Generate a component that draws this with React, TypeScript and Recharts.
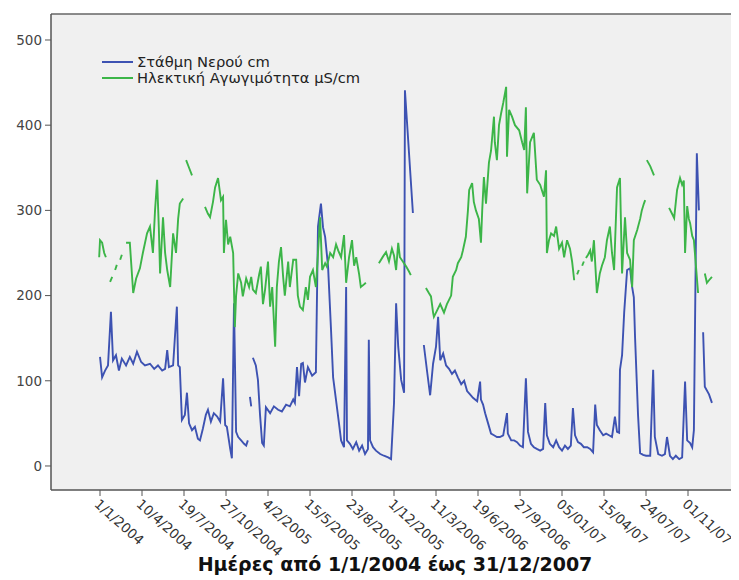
import React from 'react';
import { CartesianGrid, Legend, Line, LineChart, ReferenceLine, XAxis, YAxis } from 'recharts';

// x = days since 1/1/2004, ticks every 100 days
const tickDays = [0, 100, 200, 300, 400, 500, 600, 700, 800, 900, 1000, 1100, 1200, 1300, 1400];
const tickLabels = [
  '1/1/2004', '10/4/2004', '19/7/2004', '27/10/2004', '4/2/2005', '15/5/2005', '23/8/2005',
  '1/12/2005', '11/3/2006', '19/6/2006', '27/9/2006', '05/01/07', '15/04/07', '24/07/07', '01/11/07',
];
const valueTicks = [0, 100, 200, 300, 400, 500];

const levelName = 'Στάθμη Νερού cm';
const condName = 'Ηλεκτική Αγωγιμότητα μS/cm';
const xTitle = 'Ημέρες από 1/1/2004 έως 31/12/2007';

type Pt = [number, number | null];

// water level (cm); null = gap in the record
const levelPoints: Pt[] = [
  [0, 128], [5, 104], [12, 112], [19, 118], [26, 181], [31, 124], [38, 130], [45, 112], [52, 126],
  [62, 118], [71, 128], [79, 120], [88, 134], [98, 122], [107, 118], [119, 120], [129, 114], [138, 118],
  [148, 112], [155, 114], [160, 136], [164, 116], [174, 118], [183, 187], [186, 118], [190, 116],
  [195, 54], [202, 60], [207, 86], [212, 50], [219, 42], [226, 46], [233, 32], [238, 30], [245, 44],
  [252, 60], [257, 66], [264, 52], [271, 62], [279, 58], [286, 52], [293, 103], [298, 48], [302, 46],
  [310, 20], [314, 9], [319, 191], [324, 40], [329, 34], [336, 30], [343, 26], [348, 24], [352, 30],
  [354, null],
  [357, 81], [360, 70],
  [362, null],
  [364, 127], [371, 118], [376, 101], [381, 60], [386, 27], [390, 24], [395, 69], [405, 62], [414, 70],
  [424, 66], [433, 64], [443, 72], [452, 70], [460, 78], [464, 74], [469, 116], [474, 82], [479, 120],
  [483, 121], [488, 98], [495, 116], [505, 106], [514, 110], [519, 281], [526, 308], [531, 280],
  [536, 269], [543, 234], [550, 160], [555, 104], [562, 77], [569, 50], [574, 30], [581, 22], [586, 210],
  [588, 30], [595, 26], [602, 20], [610, 28], [617, 18], [624, 24], [631, 14], [638, 20], [640, 148],
  [643, 30], [650, 22], [657, 18], [667, 14], [676, 12], [686, 10], [693, 8], [700, 74], [705, 191],
  [710, 140], [717, 101], [724, 86], [726, 441], [745, 297],
  [758, null],
  [771, 142], [779, 110], [786, 83], [793, 120], [800, 140], [805, 175], [810, 124], [817, 132],
  [824, 118], [831, 114], [838, 108], [845, 112], [852, 104], [860, 96], [867, 100], [874, 88], [881, 84],
  [888, 80], [898, 76], [905, 99], [907, 78], [912, 72], [917, 62], [924, 50], [931, 38], [938, 36],
  [945, 34], [952, 34], [960, 36], [969, 62], [971, 38], [979, 30], [986, 30], [993, 28], [1000, 24],
  [1007, 22], [1014, 103], [1019, 40], [1026, 26], [1033, 22], [1040, 20], [1048, 18], [1055, 20],
  [1060, 74], [1064, 36], [1071, 26], [1079, 22], [1086, 30], [1093, 22], [1100, 18], [1107, 24],
  [1114, 20], [1121, 24], [1126, 68], [1131, 36], [1138, 28], [1145, 26], [1152, 22], [1160, 22],
  [1167, 20], [1174, 16], [1179, 72], [1183, 48], [1190, 42], [1198, 36], [1205, 38], [1212, 36],
  [1219, 34], [1226, 58], [1231, 40], [1236, 39], [1238, 113], [1243, 130], [1248, 180], [1255, 230],
  [1262, 232], [1267, 210], [1271, 198], [1274, 150], [1281, 60], [1286, 15], [1293, 13], [1300, 12],
  [1310, 12], [1317, 113], [1321, 34], [1329, 14], [1338, 12], [1345, 14], [1350, 34], [1357, 12],
  [1364, 8], [1371, 12], [1379, 8], [1386, 10], [1393, 99], [1398, 30], [1405, 27], [1410, 22],
  [1414, 42], [1421, 367], [1426, 300],
  [1431, null],
  [1436, 157], [1440, 93], [1450, 84], [1457, 74],
];

// electrical conductivity (μS/cm)
const condPoints: Pt[] = [
  [-2, 245], [0, 265], [5, 262], [10, 250], [14, 245],
  [19, null],
  [24, 216], [29, 222],
  [32, null],
  [36, 230], [40, 236],
  [44, null],
  [48, 242], [52, 248],
  [57, null],
  [62, 262], [71, 262], [79, 203], [86, 220], [95, 232], [102, 250], [112, 273], [119, 281], [126, 250],
  [131, 300], [136, 336], [140, 280], [143, 226], [150, 292], [155, 250], [160, 230], [167, 210],
  [174, 273], [181, 250], [186, 290], [190, 308], [198, 314],
  [201, null],
  [205, 359], [212, 350], [219, 341],
  [235, null],
  [250, 304], [257, 296], [262, 292], [269, 310], [274, 327], [281, 338], [288, 312], [293, 316],
  [295, 250], [300, 289], [305, 260], [310, 269], [317, 250], [321, 163], [324, 200], [329, 226],
  [336, 215], [340, 199], [348, 220], [355, 210], [360, 222], [364, 207], [371, 203], [379, 225],
  [383, 234], [388, 190], [393, 207], [400, 240], [405, 187], [410, 210], [417, 140], [421, 210],
  [426, 240], [431, 257], [436, 222], [440, 200], [448, 240], [452, 210], [460, 242], [467, 242],
  [471, 200], [476, 187], [483, 183], [490, 210], [495, 195], [500, 222], [507, 230], [514, 210],
  [519, 250], [524, 292], [529, 230], [536, 238], [540, 234], [548, 250], [555, 245], [562, 260],
  [567, 253], [574, 245], [581, 271], [586, 215], [593, 245], [600, 265], [605, 235], [610, 245],
  [617, 225], [621, 210], [626, 212], [633, 215],
  [648, null],
  [664, 238], [674, 246], [681, 251], [688, 240], [695, 255], [700, 247], [705, 230], [710, 262],
  [714, 245], [721, 240], [729, 234], [736, 228], [740, 224],
  [758, null],
  [776, 209], [783, 203], [788, 199], [793, 180], [795, 175], [802, 182], [810, 190], [819, 180],
  [826, 190], [831, 195], [836, 200], [840, 222], [848, 230], [852, 238], [860, 245], [864, 253],
  [871, 269], [876, 300], [879, 324], [886, 332], [890, 310], [895, 300], [902, 290], [907, 262],
  [910, 300], [914, 339], [919, 308], [926, 356], [931, 370], [938, 410], [940, 380], [945, 359],
  [950, 400], [955, 414], [960, 426], [967, 445], [969, 363], [974, 418], [981, 410], [988, 400],
  [998, 394], [1005, 380], [1010, 371], [1014, 421], [1017, 320], [1024, 380], [1033, 391],
  [1040, 336], [1048, 330], [1057, 316], [1062, 347], [1064, 250], [1069, 265], [1074, 273],
  [1081, 270], [1086, 281], [1093, 255], [1100, 262], [1105, 245], [1112, 265], [1119, 255],
  [1124, 240], [1129, 218],
  [1132, null],
  [1136, 225], [1140, 230],
  [1144, null],
  [1148, 235], [1152, 240],
  [1154, null],
  [1157, 244], [1162, 248], [1167, 253], [1171, 240], [1176, 265], [1183, 203], [1190, 226],
  [1195, 235], [1202, 245], [1207, 265], [1214, 281], [1219, 250], [1224, 230], [1231, 327],
  [1238, 338], [1243, 226], [1250, 292], [1255, 250], [1262, 242], [1267, 210], [1271, 265],
  [1279, 277], [1286, 290], [1290, 300], [1295, 308], [1298, 312],
  [1300, null],
  [1302, 359], [1310, 352], [1319, 341],
  [1337, null],
  [1355, 303], [1362, 296], [1367, 291], [1374, 324], [1381, 338], [1386, 330], [1390, 335],
  [1393, 250], [1398, 305], [1402, 290], [1405, 285], [1410, 270], [1414, 265], [1419, 234], [1424, 203],
  [1432, null],
  [1440, 226], [1445, 215], [1450, 218], [1457, 222],
];

const toRows = (pts: Pt[]) => pts.map(([day, value]) => ({ day, value }));
const levelData = toRows(levelPoints);
const condData = toRows(condPoints);

const BLUE = '#3d52b2';
const GREEN = '#3cb548';
const FONT = '"DejaVu Sans", Verdana, sans-serif';

const DateTick = (props: any) => {
  const { x, y, payload } = props;
  const i = tickDays.indexOf(payload.value);
  return (
    <g transform={`translate(${x},${y})`}>
      <text x={0} y={0} dy="0.72em" transform="rotate(42)" textAnchor="start" fontSize={13.5} fontFamily={FONT} fill="#333">
        {tickLabels[i]}
      </text>
    </g>
  );
};

const LegendBox = () => (
  <div style={{ fontFamily: FONT, fontSize: 14.7, color: '#222', lineHeight: '16px' }}>
    {[
      { name: levelName, color: BLUE },
      { name: condName, color: GREEN },
    ].map((s) => (
      <div key={s.name} style={{ display: 'flex', alignItems: 'center', whiteSpace: 'nowrap' }}>
        <span style={{ display: 'inline-block', width: 31, height: 2, background: s.color, marginRight: 4 }} />
        <span>{s.name}</span>
      </div>
    ))}
  </div>
);

export default function App() {
  return (
    <div style={{ width: 731, height: 572 }}>
      <LineChart width={731} height={572} margin={{ top: 6, right: 0, bottom: 0, left: 0 }}>
        <CartesianGrid fill="#f0f0f0" horizontal={false} vertical={false} />
        <XAxis
          dataKey="day"
          type="number"
          domain={[-116.7, 1521.4]}
          allowDataOverflow
          ticks={tickDays}
          interval={0}
          height={90}
          tick={<DateTick />}
          tickSize={6}
          tickMargin={2}
          axisLine={{ stroke: '#555', strokeWidth: 1.5 }}
          tickLine={{ stroke: '#555' }}
          label={{
            value: xTitle,
            position: 'insideBottom',
            offset: 9,
            style: { fontFamily: FONT, fontSize: 19, fontWeight: 'bold', fill: '#111' },
          }}
        />
        <YAxis
          type="number"
          domain={[-28.2, 530.5]}
          allowDataOverflow
          ticks={valueTicks}
          width={43}
          tickSize={6}
          tickMargin={3}
          tick={{ fontSize: 13.5, fontFamily: FONT, fill: '#444' }}
          axisLine={{ stroke: '#555', strokeWidth: 1.5 }}
          tickLine={{ stroke: '#555' }}
        />
        <ReferenceLine y={530.5} stroke="#666" strokeWidth={1.5} />
        <Legend
          layout="vertical"
          align="center"
          verticalAlign="middle"
          content={<LegendBox />}
          wrapperStyle={{ left: 94, top: 46, width: 'auto' }}
        />
        <Line
          data={levelData}
          dataKey="value"
          name={levelName}
          type="linear"
          stroke={BLUE}
          strokeWidth={1.9}
          dot={false}
          activeDot={false}
          isAnimationActive={false}
        />
        <Line
          data={condData}
          dataKey="value"
          name={condName}
          type="linear"
          stroke={GREEN}
          strokeWidth={1.9}
          dot={false}
          activeDot={false}
          isAnimationActive={false}
        />
      </LineChart>
    </div>
  );
}
